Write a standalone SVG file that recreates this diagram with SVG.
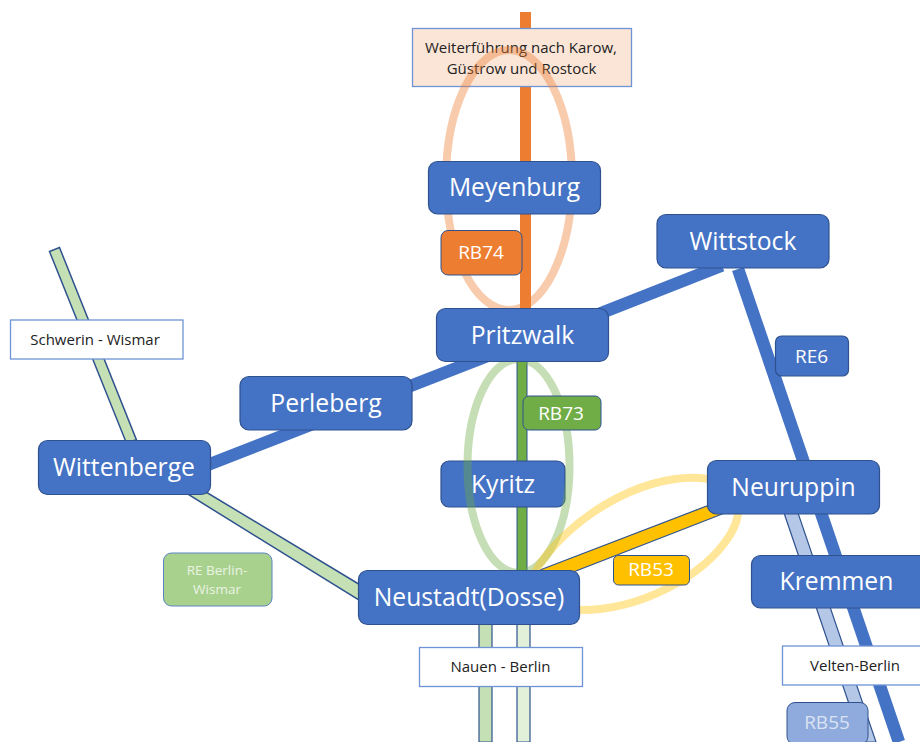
<svg xmlns="http://www.w3.org/2000/svg" width="920" height="742" viewBox="0 0 920 742">
<style>
text{font-family:"Open Sans","Noto Sans","Liberation Sans",sans-serif;text-anchor:middle}
.n{fill:#4472C4;stroke:#2F528F;stroke-width:1.2}
.nt{fill:#fff;font-size:24.700px}
.bt{font-size:19px;fill:#fff}
.lb{fill:#fff;stroke:#6E93D6;stroke-width:1.3}
.lt{fill:#222;font-size:15px}
.e{fill:none;stroke-width:8;stroke-opacity:.4}
</style>
<rect width="920" height="742" fill="#fff"/>
<g id="connectors" stroke="#2F528F">
<path d="M49.500 251.500L59.500 247.500L136.500 440L126 442Z" fill="#C5E0B4" stroke-width="1.500"/>
<path d="M196 486L362 586V602L186 493Z" fill="#C5E0B4" stroke-width="1.500"/>
<path d="M479 620H492V742H479Z" fill="#C5E0B4" stroke-width="1.200"/>
<path d="M517 620H530V742H517Z" fill="#E2F0D9" stroke-width="1.200"/>
<path d="M525.500 12V310" fill="none" stroke="#ED7D31" stroke-width="11"/>
<path d="M517 358H527V574H517Z" fill="#70AD47" stroke-width="1"/>
<path d="M540 570L725 499L730 511L545 583Z" fill="#FFC000" stroke-width="1.200"/>
<path d="M205 466L490 355M600 313.500L722 265.500" fill="none" stroke="#4472C4" stroke-width="12.500"/>
<path d="M738 269L899 742" fill="none" stroke="#4472C4" stroke-width="12.500"/>
<path d="M783 510L797 510L876 742L862 742Z" fill="#B4C7E7" stroke-width="1.200"/>
</g>
<g id="label-weiter"><rect x="412.500" y="28.500" width="219" height="58" fill="#FBE5D6" stroke="#6E93D6" stroke-width="1.300"/><text class="lt" x="521" y="53" textLength="192">Weiterführung nach Karow,</text><text class="lt" x="521.500" y="74">Güstrow und Rostock</text></g>
<g id="kyritz"><rect class="n" x="441" y="461" width="124" height="46" rx="8"/><text class="nt" x="503" y="493">Kyritz</text></g>
<g id="loops">
<ellipse class="e" cx="509" cy="180" rx="63" ry="130" stroke="#ED7D31"/>
<ellipse class="e" cx="518.500" cy="466" rx="51" ry="107" stroke="#70AD47"/>
<path class="e" d="M535 572C565 520 640 474 700 478C735 480 748 505 730 535C705 575 640 612 575 610" stroke="#FFC000"/>
</g>
<g id="meyenburg"><rect class="n" x="428.500" y="161.500" width="172" height="52.500" rx="9"/><text class="nt" x="514.500" y="196">Meyenburg</text></g>
<g id="pritzwalk"><rect class="n" x="436.500" y="308.500" width="172" height="53" rx="9"/><text class="nt" x="522.500" y="344">Pritzwalk</text></g>
<g id="wittstock"><rect class="n" x="657" y="214.500" width="172" height="53.500" rx="9"/><text class="nt" x="743" y="250">Wittstock</text></g>
<g id="perleberg"><rect class="n" x="240" y="376.500" width="172" height="53.500" rx="9"/><text class="nt" x="326" y="412">Perleberg</text></g>
<g id="wittenberge"><rect class="n" x="38.500" y="440.500" width="172" height="54" rx="9"/><text class="nt" x="124" y="476">Wittenberge</text></g>
<g id="neustadt"><rect class="n" x="358.500" y="570.500" width="221" height="54" rx="9"/><text class="nt" x="469" y="606">Neustadt(Dosse)</text></g>
<g id="neuruppin"><rect class="n" x="707.500" y="460.500" width="172" height="53.500" rx="9"/><text class="nt" x="793.500" y="496">Neuruppin</text></g>
<g id="kremmen"><rect class="n" x="751.500" y="555.500" width="180" height="52.500" rx="9"/><text class="nt" x="836.500" y="590">Kremmen</text></g>
<g id="rb74"><rect x="441" y="230.500" width="81" height="44.500" rx="7" fill="#ED7D31" stroke="#2F528F" stroke-width="1"/><text class="bt" x="481" y="259">RB74</text></g>
<g id="rb73"><rect x="523" y="396" width="78" height="34" rx="6" fill="#70AD47" stroke="#2F528F" stroke-width="1"/><text class="bt" x="561" y="420">RB73</text></g>
<g id="re6"><rect class="n" x="775.500" y="336" width="73" height="40" rx="6"/><text class="bt" x="811.500" y="363">RE6</text></g>
<g id="rb53"><rect x="613.500" y="555.500" width="76" height="29.500" rx="5" fill="#FFC000" stroke="#2F528F" stroke-width="1"/><text class="bt" x="651" y="576">RB53</text></g>
<g id="re-berlin"><rect x="163.500" y="553" width="108.500" height="53" rx="8" fill="#A9D18E" stroke="#5B84C4" stroke-width="1"/><text x="217" y="575" font-size="13.500" fill="#EAF4E2">RE Berlin-</text><text x="217" y="594" font-size="13.500" fill="#EAF4E2">Wismar</text></g>
<g id="rb55"><rect x="787" y="702.500" width="81" height="42" rx="8" fill="#8FAADC" stroke="#2F528F" stroke-width="1"/><text x="827" y="729" font-size="19" fill="#DAE3F3">RB55</text></g>
<g id="label-schwerin"><rect class="lb" x="10.500" y="320" width="172.500" height="39"/><text class="lt" x="95" y="345">Schwerin - Wismar</text></g>
<g id="label-nauen"><rect class="lb" x="419.500" y="647.500" width="163" height="39"/><text class="lt" x="500.500" y="672">Nauen - Berlin</text></g>
<g id="label-velten"><rect class="lb" x="782.500" y="646" width="150" height="39"/><text class="lt" x="855" y="671">Velten-Berlin</text></g>
</svg>
